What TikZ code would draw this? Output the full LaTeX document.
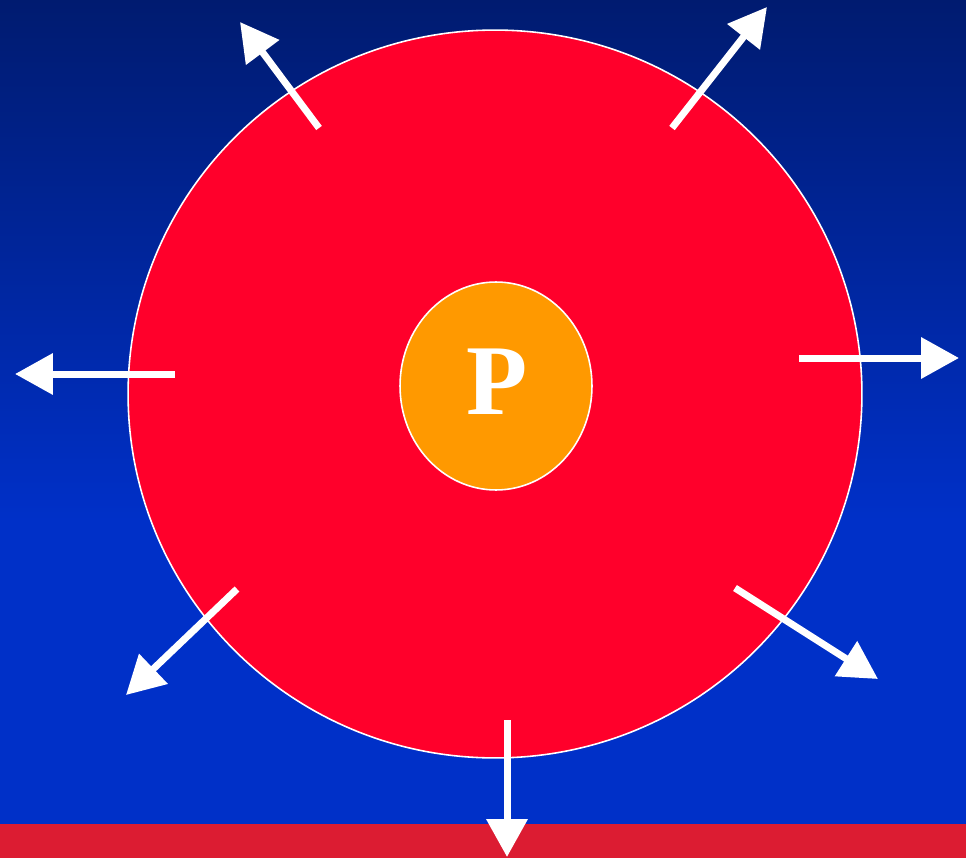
\documentclass[tikz,border=0pt]{standalone}
\usepackage{fontspec}
\setmainfont{Liberation Serif}
\usetikzlibrary{arrows.meta,shapes.geometric}
\definecolor{skytop}{RGB}{0,27,112}
\definecolor{skybot}{RGB}{0,48,200}
\definecolor{floorred}{RGB}{220,28,50}
\definecolor{ballred}{RGB}{255,0,43}
\definecolor{coreorange}{RGB}{255,153,0}
\tikzset{
  push/.style={white,line width=0.14cm,-{Triangle[length=0.76cm,width=0.8cm]}},
}
\begin{document}
\begin{tikzpicture}[x=0.02cm,y=-0.02cm]
  \useasboundingbox (0,0) rectangle (966,858);
  \shade[top color=skytop,bottom color=skybot] (0,0) rectangle (966,520);
  \fill[skybot] (0,519) rectangle (966,825);
  \fill[floorred] (0,824) rectangle (966,858);

  \node[ellipse,draw=white,line width=0.9pt,fill=ballred,
    minimum width=14.68cm,minimum height=14.56cm,inner sep=0pt] (ball) at (495,394) {};
  \node[ellipse,draw=white,line width=0.9pt,fill=coreorange,
    minimum width=3.84cm,minimum height=4.16cm,inner sep=0pt] (core) at (496,386) {};
  \node[white,font=\fontsize{57}{57}\selectfont\bfseries] (plabel) at (497,382) {P};

  % tails sit inside the red ball, tips reach out into the blue
  \coordinate (t1) at (319,128); \coordinate (h1) at (240,22);
  \coordinate (t2) at (672,128); \coordinate (h2) at (767,7);
  \coordinate (t3) at (175,374); \coordinate (h3) at (15,374);
  \coordinate (t4) at (799,358); \coordinate (h4) at (959,358);
  \coordinate (t5) at (237,589); \coordinate (h5) at (126,695);
  \coordinate (t6) at (735,588); \coordinate (h6) at (878,679);
  \coordinate (t7) at (507,720); \coordinate (h7) at (507,857);
  \foreach \i in {1,...,7}
    \draw[push] (t\i) -- (h\i);
\end{tikzpicture}
\end{document}
